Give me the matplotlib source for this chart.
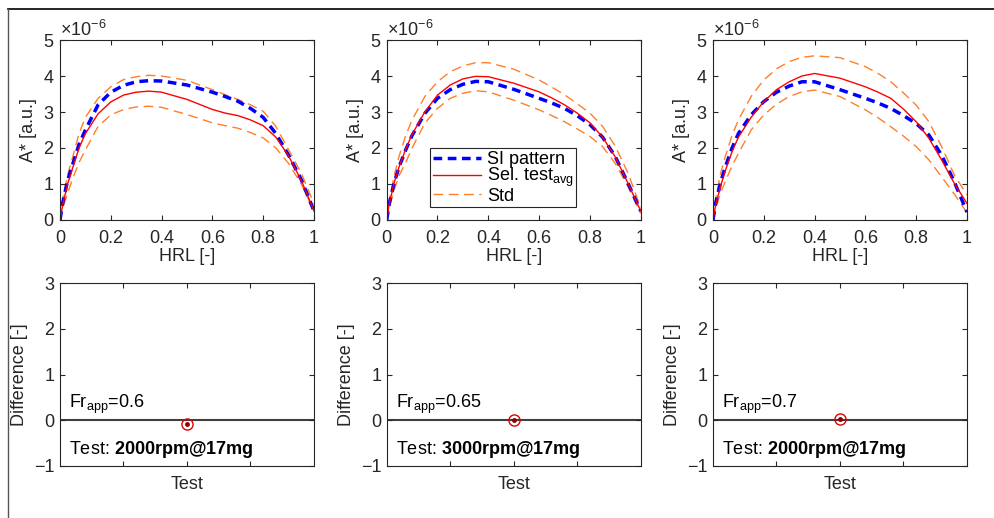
import matplotlib
matplotlib.use("Agg")
import matplotlib.pyplot as plt
from matplotlib.lines import Line2D
from matplotlib.ticker import ScalarFormatter, FixedLocator

plt.rcParams['font.family'] = ['Liberation Sans', 'DejaVu Sans']
plt.rcParams['mathtext.fontset'] = 'custom'
plt.rcParams['mathtext.rm'] = 'Liberation Sans'
plt.rcParams['mathtext.it'] = 'Liberation Sans:italic'
plt.rcParams['mathtext.bf'] = 'Liberation Sans:bold'

# ---------------- data ----------------
hrl = [0, 0.01, 0.03, 0.05, 0.075, 0.1, 0.15, 0.2, 0.25, 0.3, 0.35, 0.4, 0.5, 0.6, 0.65, 0.7, 0.75, 0.8, 0.85, 0.9, 0.95, 1.0]

# values in units of 1e-6
si_1 = [0, 0.45, 1.1, 1.55, 2.1, 2.5, 3.2, 3.55, 3.74, 3.84, 3.87, 3.86, 3.75, 3.55, 3.43, 3.3, 3.1, 2.85, 2.4, 1.8, 1.12, 0.25]
sel_1 = [0, 0.4, 1.0, 1.45, 2.0, 2.4, 2.95, 3.28, 3.47, 3.55, 3.58, 3.55, 3.35, 3.07, 2.97, 2.9, 2.78, 2.62, 2.3, 1.78, 1.1, 0.25]
up_1 = [0, 0.55, 1.25, 1.75, 2.4, 2.85, 3.38, 3.7, 3.9, 3.98, 4.02, 4.0, 3.88, 3.62, 3.48, 3.35, 3.2, 3.02, 2.6, 1.95, 1.3, 0.45]
lo_1 = [0, 0.3, 0.75, 1.15, 1.6, 1.95, 2.6, 2.92, 3.07, 3.14, 3.16, 3.13, 2.93, 2.7, 2.62, 2.55, 2.43, 2.28, 2.0, 1.57, 1.0, 0.25]

si_2 = [0, 0.45, 1.05, 1.5, 1.95, 2.35, 2.96, 3.38, 3.62, 3.77, 3.85, 3.84, 3.63, 3.38, 3.25, 3.1, 2.9, 2.65, 2.3, 1.76, 1.02, 0.25]
sel_2 = [0, 0.45, 1.05, 1.5, 1.97, 2.38, 3.0, 3.47, 3.75, 3.92, 3.99, 3.98, 3.8, 3.56, 3.39, 3.2, 2.97, 2.7, 2.3, 1.75, 1.02, 0.25]
up_2 = [0, 0.55, 1.25, 1.8, 2.35, 2.78, 3.43, 3.84, 4.12, 4.28, 4.37, 4.37, 4.19, 3.89, 3.69, 3.48, 3.23, 2.97, 2.6, 2.05, 1.3, 0.35]
lo_2 = [0, 0.35, 0.85, 1.25, 1.6, 2.0, 2.69, 3.1, 3.38, 3.52, 3.59, 3.56, 3.33, 3.06, 2.9, 2.73, 2.53, 2.32, 2.04, 1.57, 0.93, 0.18]

si_3 = [0, 0.45, 1.05, 1.5, 2.0, 2.4, 2.92, 3.29, 3.55, 3.72, 3.84, 3.84, 3.62, 3.38, 3.25, 3.1, 2.9, 2.68, 2.36, 1.8, 1.06, 0.22]
sel_3 = [0, 0.4, 0.95, 1.4, 1.9, 2.3, 2.85, 3.29, 3.62, 3.84, 4.0, 4.07, 3.94, 3.7, 3.55, 3.38, 3.08, 2.73, 2.27, 1.67, 1.02, 0.46]
up_3 = [0, 0.55, 1.3, 1.8, 2.35, 2.78, 3.43, 3.89, 4.2, 4.4, 4.52, 4.56, 4.51, 4.26, 4.07, 3.84, 3.53, 3.19, 2.73, 2.04, 1.25, 0.7]
lo_3 = [0, 0.3, 0.75, 1.1, 1.5, 1.85, 2.5, 2.92, 3.22, 3.43, 3.56, 3.61, 3.43, 3.06, 2.84, 2.59, 2.33, 2.04, 1.67, 1.2, 0.72, 0.2]

diff_values = [-0.08, 0.0, 0.03]
fr_app = ['0.6', '0.65', '0.7']
test_names = ['2000rpm@17mg', '3000rpm@17mg', '2000rpm@17mg']
bottom_xticks = [0.5, 1.0, 1.5]
bottom_xticklabels = ['', 'Test', '']

panels = [(si_1, sel_1, up_1, lo_1), (si_2, sel_2, up_2, lo_2), (si_3, sel_3, up_3, lo_3)]

# ---------------- styling ----------------
W, H = 995, 518
fig = plt.figure(figsize=(W / 100, H / 100), dpi=100)
axc = '#262626'
FS = 13
BLUE = '#0000FF'
RED = '#FF0000'
ORANGE = '#FF7F2A'

lefts = [60 / W, 386.7 / W, 713 / W]
aw = 254 / W
top_b, top_h = (H - 220) / H, 180 / H
bot_b, bot_h = (H - 466) / H, 183 / H


def style(ax):
    for s in ax.spines.values():
        s.set_color(axc)
        s.set_linewidth(0.8)
    ax.tick_params(direction='in', top=True, right=True, length=3.5, width=0.8,
                   colors=axc, labelsize=FS)
    ax.tick_params(axis='x', pad=7)
    ax.tick_params(axis='y', pad=4)


for i, (si, sel, up, lo) in enumerate(panels):
    ax = fig.add_axes([lefts[i], top_b, aw, top_h])
    scale = 1e-6
    ax.plot(hrl, [v * scale for v in up], color=ORANGE, lw=1.0, ls=(0, (7, 4)), label='Std')
    ax.plot(hrl, [v * scale for v in lo], color=ORANGE, lw=1.0, ls=(0, (7, 4)))
    ax.plot(hrl, [v * scale for v in si], color=BLUE, lw=2.5, ls=(0, (2.5, 1.6)), label='SI pattern')
    ax.plot(hrl, [v * scale for v in sel], color=RED, lw=1.0, label=r'Sel. test$_{\mathrm{avg}}$')
    ax.set_xlim(0, 1)
    ax.set_ylim(0, 5e-6)
    ax.set_xticks([0, 0.2, 0.4, 0.6, 0.8, 1.0])
    ax.set_xticklabels(['0', '0.2', '0.4', '0.6', '0.8', '1'])
    ax.yaxis.set_major_locator(FixedLocator([0, 1e-6, 2e-6, 3e-6, 4e-6, 5e-6]))
    fmt = ScalarFormatter(useMathText=True)
    fmt.set_powerlimits((0, 0))
    ax.yaxis.set_major_formatter(fmt)
    ax.yaxis.get_offset_text().set_fontsize(FS)
    ax.yaxis.get_offset_text().set_color(axc)
    ax.set_xlabel('HRL [-]', fontsize=FS, color=axc, labelpad=1)
    ax.set_ylabel('A* [a.u.]', fontsize=FS, color=axc, labelpad=4)
    style(ax)
    if i == 1:
        h, l = ax.get_legend_handles_labels()
        order = [1, 2, 0]
        leg = ax.legend([h[k] for k in order], [l[k] for k in order], loc='lower left',
                        bbox_to_anchor=(0.17, 0.07), fontsize=FS, frameon=True,
                        fancybox=False, framealpha=1, edgecolor='#262626',
                        borderpad=0.15, labelspacing=-0.1, handlelength=2.7,
                        handletextpad=0.3, borderaxespad=0)
        leg.get_frame().set_linewidth(0.8)

    bx = fig.add_axes([lefts[i], bot_b, aw, bot_h])
    bx.axhline(0, color='#404040', lw=1.5, zorder=1)
    bx.plot([1.0], [diff_values[i]], 'o', mfc='none', mec='#E00000', ms=8, mew=1.0, zorder=3)
    bx.plot([1.0], [diff_values[i]], 'o', color='#8B0000', ms=2.5, zorder=4)
    bx.set_xlim(0, 2)
    bx.set_ylim(-1, 3)
    bx.set_yticks([-1, 0, 1, 2, 3])
    bx.set_xticks(bottom_xticks)
    bx.set_xticklabels(bottom_xticklabels)
    bx.set_ylabel('Difference [-]', fontsize=FS, color=axc, labelpad=4)
    style(bx)
    bx.text(0.07, 0.27, r'Fr$_{\mathrm{app}}$=' + fr_app[i], fontsize=FS, va='baseline', ha='left')
    bx.text(0.07, -0.74, r'Test: $\mathbf{' + test_names[i] + '}$', fontsize=FS, va='baseline', ha='left')

# figure border (top and left)
fig.add_artist(Line2D([8 / W, 1.0], [1 - 9 / H, 1 - 9 / H], color='black', lw=1.2, transform=fig.transFigure))
fig.add_artist(Line2D([8 / W, 8 / W], [0, 1 - 9 / H], color='#555555', lw=1.0, transform=fig.transFigure))

fig.savefig('out.png', dpi=100)
